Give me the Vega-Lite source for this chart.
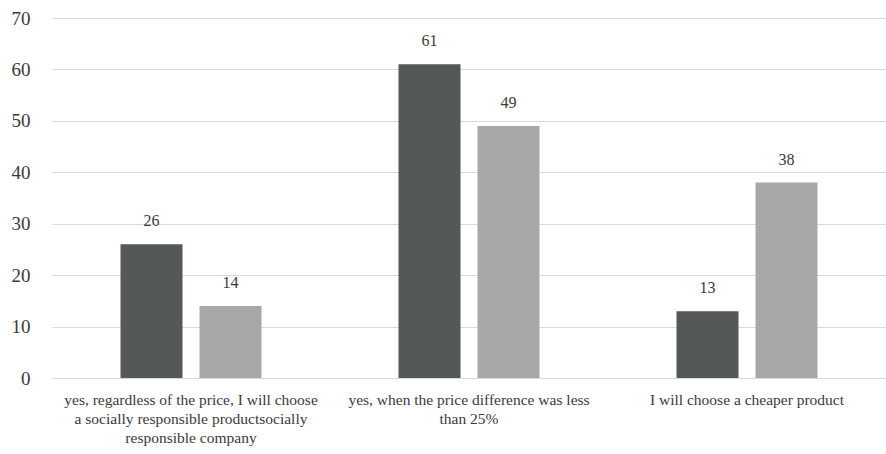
{
  "$schema": "https://vega.github.io/schema/vega-lite/v6.json",
  "autosize": {"type": "none"},
  "width": 834,
  "height": 360,
  "padding": {"left": 52, "top": 18, "right": 0, "bottom": 76},
  "background": "white",
  "config": {"view": {"stroke": null}, "font": "Liberation Serif"},
  "data": {"values": [
    {"category": "yes, regardless of the price, I will choose|a socially responsible productsocially|responsible company", "order": 1, "series": "A", "value": 26},
    {"category": "yes, regardless of the price, I will choose|a socially responsible productsocially|responsible company", "order": 1, "series": "B", "value": 14},
    {"category": "yes, when the price difference was less|than 25%", "order": 2, "series": "A", "value": 61},
    {"category": "yes, when the price difference was less|than 25%", "order": 2, "series": "B", "value": 49},
    {"category": "I will choose a cheaper product", "order": 3, "series": "A", "value": 13},
    {"category": "I will choose a cheaper product", "order": 3, "series": "B", "value": 38}
  ]},
  "encoding": {
    "x": {"field": "category", "type": "nominal", "sort": {"field": "order"},
      "scale": {"paddingInner": 0, "paddingOuter": 0},
      "axis": {"title": null, "labelAngle": 0, "ticks": false, "domain": true, "domainColor": "#d9d9d9", "domainWidth": 1,
        "labelExpr": "split(datum.label, '|')", "labelFontSize": 15.5, "labelColor": "#3a3a3a", "labelPadding": 14, "labelLineHeight": 19, "labelLimit": 300}},
    "xOffset": {"field": "series", "type": "nominal", "scale": {"paddingInner": 0.215, "paddingOuter": 0.867}}
  },
  "layer": [
    {"mark": {"type": "bar"},
     "encoding": {
       "y": {"field": "value", "type": "quantitative", "scale": {"domain": [0, 70]},
         "axis": {"title": null, "values": [0,10,20,30,40,50,60,70], "domain": false, "ticks": false, "gridColor": "#d9d9d9", "gridWidth": 1, "labelFontSize": 19, "labelColor": "#3a3a3a", "labelPadding": 22}},
       "color": {"field": "series", "type": "nominal", "scale": {"domain": ["A", "B"], "range": ["#555859", "#a7a9a9"]}, "legend": null}
     }},
    {"mark": {"type": "text", "dy": -23, "fontSize": 16, "color": "#3a3a3a"},
     "encoding": {
       "y": {"field": "value", "type": "quantitative"},
       "text": {"field": "value", "type": "quantitative"}
     }}
  ]
}
